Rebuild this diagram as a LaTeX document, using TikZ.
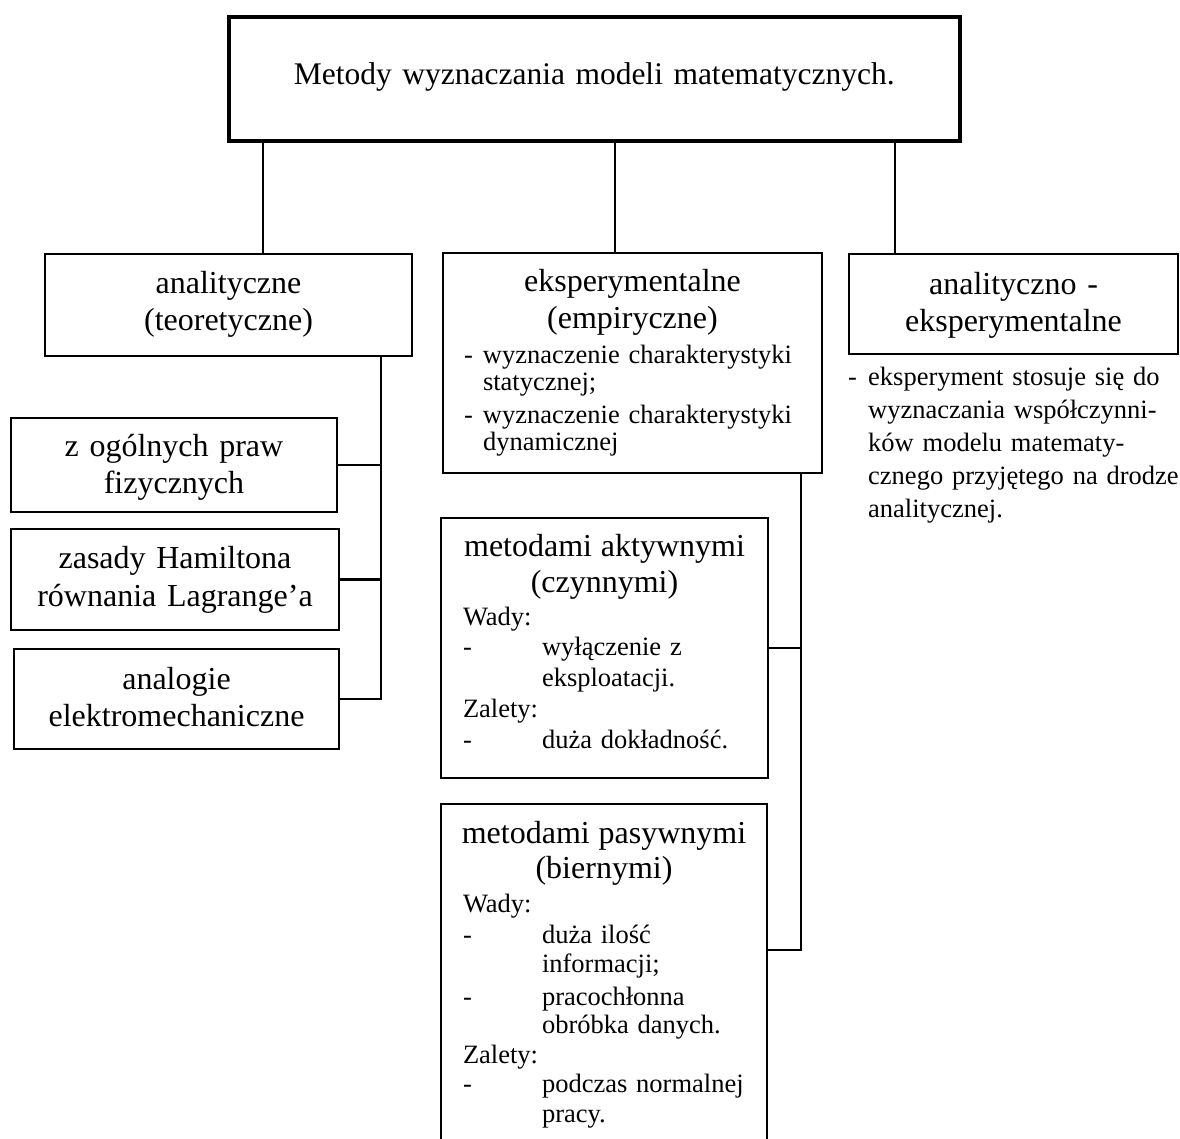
\documentclass[tikz,border=0pt]{standalone}
\usepackage{fontspec}
\setmainfont{Liberation Serif}
\newcommand\titlefont{\fontsize{31.5}{36}\selectfont}
\newcommand\headfont{\fontsize{32}{36}\selectfont}
\newcommand\notefont[1]{\fontsize{26.5}{#1}\selectfont\lineskiplimit=-50pt}
\begin{document}
\begin{tikzpicture}[x=1pt, y=-1pt,
    box/.style={draw, line width=2pt, anchor=north west, inner ysep=0pt},
    link/.style={line width=2.8pt}]
    \fill[white] (0,0) rectangle (1180,1138);
    \useasboundingbox (0,0) rectangle (1180,1138);

    \node[box, line width=3.6pt, inner xsep=10pt, text width=711pt, text height=68pt, text depth=56pt, align=center, font=\titlefont] (title) at (227,15) {Metody wyznaczania modeli matematycznych.};

    \node[box, inner xsep=10pt, text width=347pt, text height=39pt, text depth=63pt, align=center, font=\fontsize{32}{37}\selectfont] (anal) at (44,253) {analityczne\\(teoretyczne)};
    \node[box, inner xsep=21pt, text width=337pt, text height=38pt, text depth=182pt, align=left, font=\notefont{27}] (eksp) at (442,252) {%
      \makebox[\linewidth]{\headfont eksperymentalne}\\[10pt]
      \makebox[\linewidth]{\headfont (empiryczne)}\\[8pt]
      \makebox[19pt][l]{-}wyznaczenie charakterystyki\\
      \hspace*{19pt}statycznej;\\[6pt]
      \makebox[19pt][l]{-}wyznaczenie charakterystyki\\
      \hspace*{19pt}dynamicznej};
    \node[box, inner xsep=10pt, text width=309pt, text height=40pt, text depth=60pt, align=center, font=\fontsize{32}{37}\selectfont] (anex) at (848,253) {analityczno -\\eksperymentalne};

    \node[inner sep=0pt, anchor=north west, text width=327pt, text height=20pt, align=left, font=\notefont{33}] (opis) at (848,365) {%
      \makebox[20pt][l]{-}\makebox[305pt][s]{eksperyment stosuje się do}\\
      \hspace*{20pt}\makebox[305pt][s]{wyznaczania współczynni-}\\
      \hspace*{20pt}\makebox[305pt][s]{ków modelu matematy-}\\
      \hspace*{20pt}\makebox[305pt][s]{cznego przyjętego na drodze}\\
      \hspace*{20pt}analitycznej.};

    % metody analityczne
    \node[box, inner xsep=10pt, text width=306pt, text height=38pt, text depth=56pt, align=center, font=\fontsize{32}{37}\selectfont] (fiz) at (10,417) {z ogólnych praw\\fizycznych};
    \node[box, inner xsep=10pt, text width=308pt, text height=39pt, text depth=62pt, align=center, font=\fontsize{32}{38}\selectfont] (ham) at (10,528) {zasady Hamiltona\\równania Lagrange’a};
    \node[box, inner xsep=10pt, text width=305pt, text height=40pt, text depth=60pt, align=center, font=\fontsize{32}{37}\selectfont] (ana) at (13,648) {analogie\\elektromechaniczne};

    % metody eksperymentalne
    \node[box, inner xsep=22pt, text width=283pt, text height=38pt, text depth=222pt, align=left, font=\notefont{30}] (akt) at (440,517) {%
      \makebox[\linewidth]{\headfont metodami aktywnymi}\\[6pt]
      \makebox[\linewidth]{\headfont (czynnymi)}\\[3pt]
      Wady:\\
      \makebox[79pt][l]{-}wyłączenie z\\[1pt]
      \hspace*{79pt}eksploatacji.\\[1pt]
      Zalety:\\[1pt]
      \makebox[79pt][l]{-}duża dokładność.};
    \node[box, inner xsep=22pt, text width=282pt, text height=39pt, text depth=400pt, align=left, font=\notefont{30}] (pas) at (440,803) {%
      \makebox[\linewidth]{\headfont metodami pasywnymi}\\[5pt]
      \makebox[\linewidth]{\headfont (biernymi)}\\[4pt]
      Wady:\\[1pt]
      \makebox[79pt][l]{-}duża ilość\\[-1pt]
      \hspace*{79pt}informacji;\\[3pt]
      \makebox[79pt][l]{-}pracochłonna\\[-2pt]
      \hspace*{79pt}obróbka danych.\\
      Zalety:\\[-1pt]
      \makebox[79pt][l]{-}\makebox[203pt][s]{podczas normalnej}\\[0pt]
      \hspace*{79pt}pracy.};

    \coordinate (xa) at (263,0);
    \coordinate (xb) at (615,0);
    \coordinate (xc) at (895,0);
    \coordinate (busL) at (381,0);
    \coordinate (busM) at (801,0);

    \draw[link] (title.south -| xa) -- (anal.north -| xa);
    \draw[link] (title.south -| xb) -- (eksp.north -| xb);
    \draw[link] (title.south -| xc) -- (anex.north -| xc);

    \draw[link] (anal.south -| busL) |- (ana.east);
    \draw[link] (fiz.east) -- (fiz.east -| busL);
    \draw[link] (ham.east) -- (ham.east -| busL);

    \draw[link] (eksp.south -| busM) |- ([yshift=-147pt]pas.north east);
    \draw[link] (akt.east) -- (akt.east -| busM);
\end{tikzpicture}
\end{document}
